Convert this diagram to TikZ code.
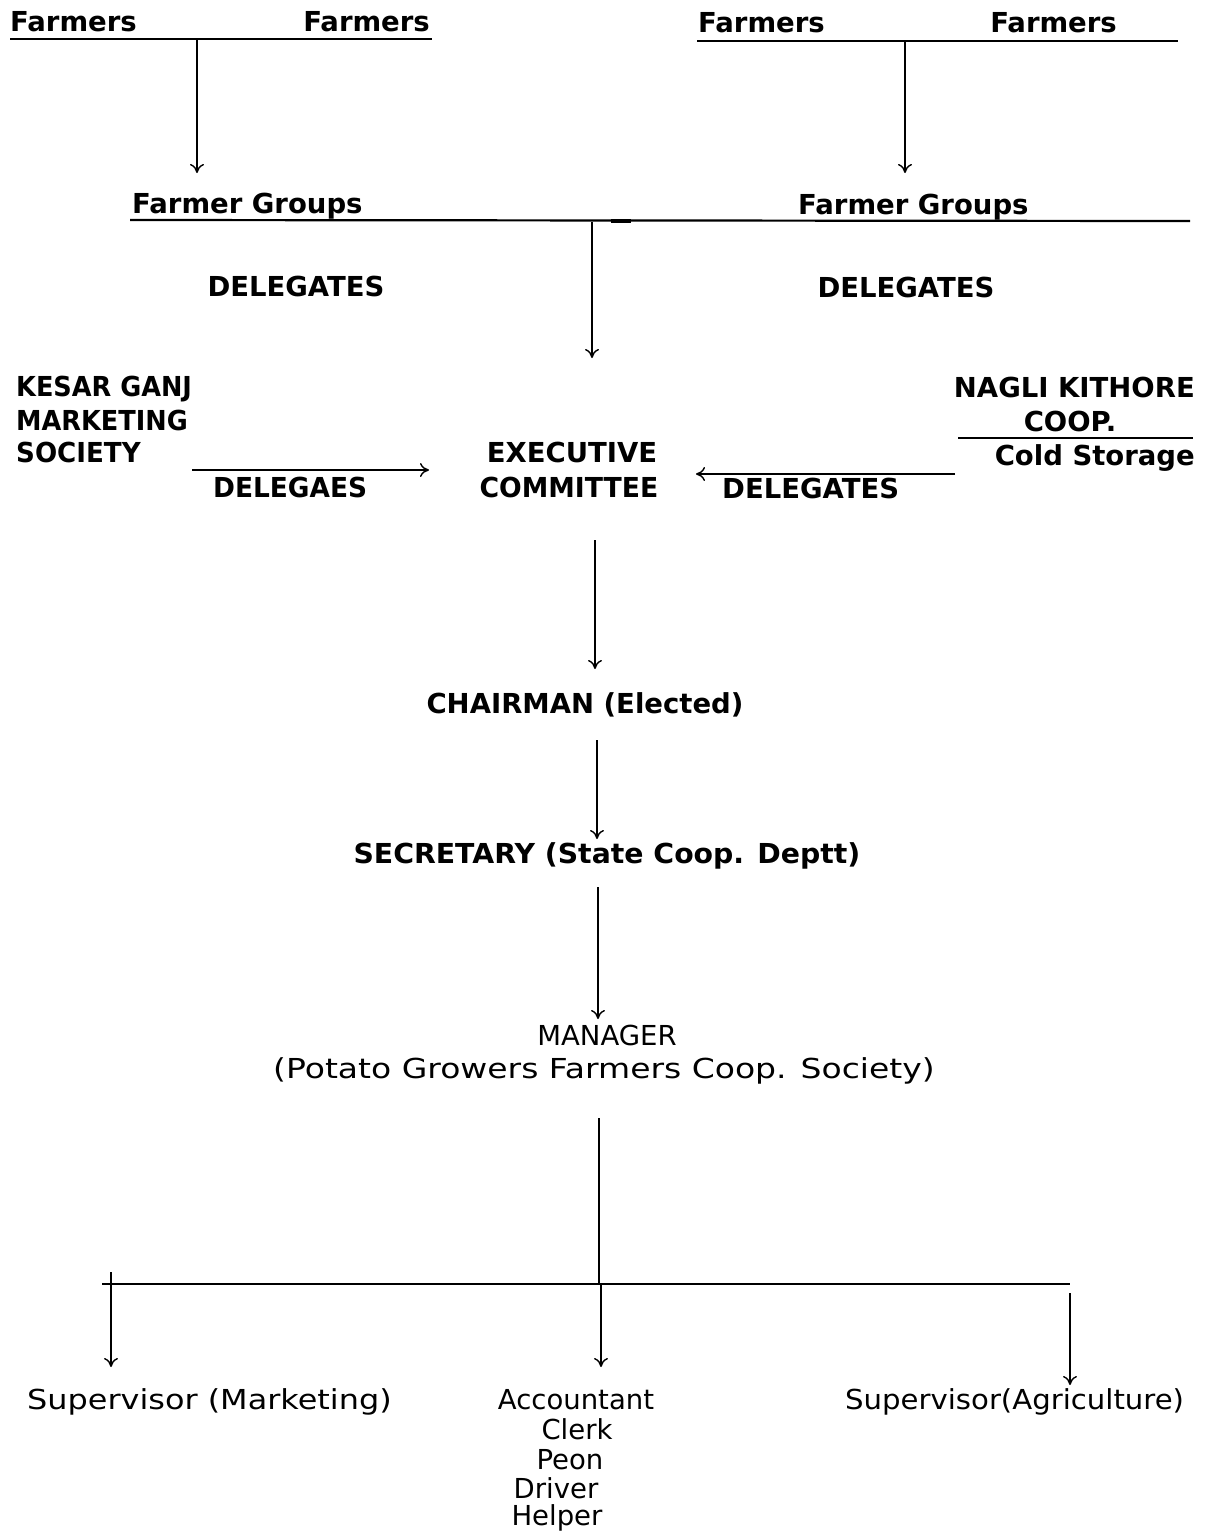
\documentclass[tikz,border=0pt]{standalone}
\usepackage{fontspec}
\usepackage{graphicx}
\setmainfont{DejaVu Sans}
\usetikzlibrary{arrows.meta}
\begin{document}
\begin{tikzpicture}[x=1pt,y=-1pt,
  lbl/.style={inner sep=0pt,font=\fontsize{27.5}{33}\selectfont\bfseries},
  lbr/.style={inner sep=0pt,font=\fontsize{27.5}{33}\selectfont},
  bar/.style={line width=2.2pt},
  flow/.style={line width=1.4pt,-{To[length=9pt,width=14pt]}},
  rule/.style={line width=1.4pt}]
\useasboundingbox (0,0) rectangle (1223,1534);

% farmers feeding the two farmer groups
\node[lbl,anchor=base west] (f1) at (10,31) {Farmers};
\node[lbl,anchor=base east] (f2) at (430,31) {Farmers};
\node[lbl,anchor=base west] (f3) at (698,32) {Farmers};
\node[lbl,anchor=base east] (f4) at (1117,32) {Farmers};
\coordinate (b1l) at (10,39);  \coordinate (b1r) at (432,39);
\coordinate (b2l) at (697,41); \coordinate (b2r) at (1178,41);
\draw[bar] (b1l) -- (b1r);
\draw[bar] (b2l) -- (b2r);
\coordinate (a1s) at (197,39);  \coordinate (a1e) at (197,173);
\coordinate (a2s) at (905,41);  \coordinate (a2e) at (905,173);
\draw[flow] (a1s) -- (a1e);
\draw[flow] (a2s) -- (a2e);

% farmer groups and their delegates
\node[lbl,anchor=base west] (g1) at (132,213) {Farmer Groups};
\node[lbl,anchor=base west] (g2) at (798,214) {Farmer Groups};
\coordinate (gl) at (130,220); \coordinate (gr) at (1190,221);
\draw[bar] (gl) -- (gr);
\draw[line width=4pt] (611,220.5) -- (631,220.5);
\node[lbl,anchor=base] (d1) at (296,296) {DELEGATES};
\node[lbl,anchor=base] (d2) at (906,297) {DELEGATES};
\coordinate (a3s) at (592,222); \coordinate (a3e) at (592,358);
\draw[flow] (a3s) -- (a3e);

% side societies
\node[lbl,anchor=base west] (k1) at (16,396) {\scalebox{0.93}[1]{KESAR GANJ}};
\node[lbl,anchor=base west] (k2) at (16,430) {\scalebox{0.93}[1]{MARKETING}};
\node[lbl,anchor=base west] (k3) at (16,462) {\scalebox{0.95}[1]{SOCIETY}};
\node[lbl,anchor=base east] (n1) at (1195,397) {NAGLI KITHORE};
\node[lbl,anchor=base] (n2) at (1070,431) {COOP.};
\node[lbl,anchor=base east] (n3) at (1195,465) {Cold Storage};
\coordinate (nl) at (958,438); \coordinate (nr) at (1193,438);
\draw[rule] (nl) -- (nr);

% executive committee
\node[lbl,anchor=base] (e1) at (572,462) {EXECUTIVE};
\node[lbl,anchor=base] (e2) at (569,497) {\scalebox{0.97}[1]{COMMITTEE}};
\coordinate (l1s) at (192,470); \coordinate (l1e) at (429,470);
\draw[flow] (l1s) -- (l1e);
\node[lbl,anchor=base west] (dl) at (213,497) {\scalebox{0.96}[1]{DELEGAES}};
\coordinate (r1s) at (955,474); \coordinate (r1e) at (696,474);
\draw[flow] (r1s) -- (r1e);
\node[lbl,anchor=base west] (dr) at (722,498) {DELEGATES};

% chain of command
\coordinate (c1s) at (595,540); \coordinate (c1e) at (595,669);
\draw[flow] (c1s) -- (c1e);
\node[lbl,anchor=base] (ch) at (585,713) {CHAIRMAN (Elected)};
\coordinate (c2s) at (597,740); \coordinate (c2e) at (597,839);
\draw[flow] (c2s) -- (c2e);
\node[lbl,anchor=base] (se) at (607,863) {\scalebox{1.03}[1]{SECRETARY (State Coop. Deptt)}};
\coordinate (c3s) at (598,887); \coordinate (c3e) at (598,1019);
\draw[flow] (c3s) -- (c3e);
\node[lbr,anchor=base] (m1) at (607,1045) {MANAGER};
\node[lbr,anchor=base] (m2) at (604,1078) {\scalebox{1.2}[1]{(Potato Growers Farmers Coop. Society)}};

% staff
\coordinate (ms) at (599,1118); \coordinate (mj) at (599,1284);
\draw[rule] (ms) -- (mj);
\coordinate (sl) at (102,1284); \coordinate (sr) at (1070,1284);
\draw[bar] (sl) -- (sr);
\coordinate (s1s) at (111,1272); \coordinate (s1e) at (111,1367);
\coordinate (s2s) at (601,1284); \coordinate (s2e) at (601,1367);
\coordinate (s3s) at (1070,1293); \coordinate (s3e) at (1070,1385);
\draw[flow] (s1s) -- (s1e);
\draw[flow] (s2s) -- (s2e);
\draw[flow] (s3s) -- (s3e);
\node[lbr,anchor=base west] (p1) at (27,1409) {\scalebox{1.16}[1]{Supervisor (Marketing)}};
\node[lbr,anchor=base west] (p3) at (845,1409) {\scalebox{1.06}[1]{Supervisor(Agriculture)}};
\node[lbr,anchor=base] (p2a) at (576,1409) {Accountant};
\node[lbr,anchor=base] (p2b) at (577,1439) {Clerk};
\node[lbr,anchor=base] (p2c) at (570,1469) {Peon};
\node[lbr,anchor=base] (p2d) at (556,1498) {Driver};
\node[lbr,anchor=base] (p2e) at (557,1525) {Helper};
\end{tikzpicture}
\end{document}
